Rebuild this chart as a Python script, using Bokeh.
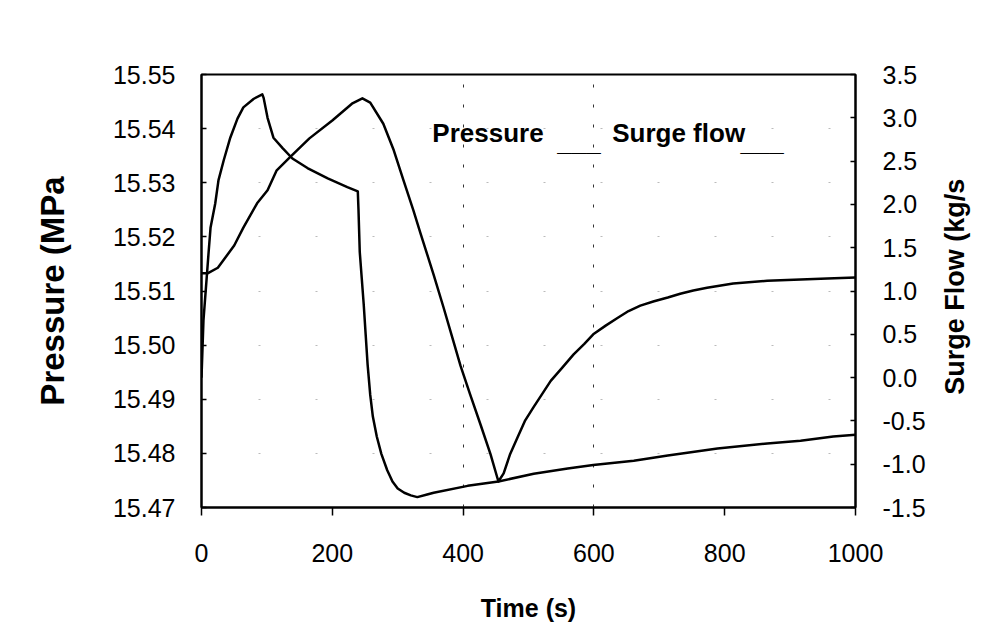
import math
from bokeh.plotting import figure
from bokeh.layouts import row
from bokeh.models import Range1d, LinearAxis, FixedTicker, NumeralTickFormatter, Label
from bokeh.embed import file_html
from bokeh.resources import INLINE

# ---- data ----
time_pressure = [0, 10, 25, 50, 64, 85, 101, 115, 135, 165, 200, 230, 246, 258, 278, 294,
                 309, 324, 335, 355, 370, 385, 396, 411, 427, 442, 454, 462, 472, 483, 495,
                 508, 521, 534, 552, 569, 585, 599, 618, 636, 653, 671, 692, 713, 732, 752,
                 773, 813, 865, 957, 1000]
pressure = [15.5133, 15.5133, 15.5143, 15.5184, 15.5217, 15.5262, 15.5286, 15.5323, 15.5347,
            15.5382, 15.5415, 15.5446, 15.5456, 15.5448, 15.5409, 15.5360, 15.5304, 15.5249,
            15.5206, 15.5130, 15.5070, 15.5008, 15.4962, 15.4908, 15.4852, 15.4798, 15.4748,
            15.4763, 15.4799, 15.4829, 15.4861, 15.4886, 15.4910, 15.4934, 15.4959, 15.4983,
            15.5002, 15.5020, 15.5036, 15.5050, 15.5063, 15.5073, 15.5081, 15.5088, 15.5095,
            15.5101, 15.5106, 15.5114, 15.5119, 15.5123, 15.5125]

time_flow = [0, 3, 7.6, 10.7, 13.8, 21, 26, 34, 44, 55, 64, 80, 93, 95, 101, 110, 124, 139,
             162, 193, 223, 239, 240, 242, 245, 248, 251, 254, 258, 262, 268, 275, 284, 292,
             300, 310, 320, 330, 345, 355, 407, 454, 508, 560, 599, 661, 713, 789, 865, 916,
             966, 1000]
surge_flow = [0.0, 0.66, 1.12, 1.43, 1.73, 2.01, 2.28, 2.51, 2.77, 2.99, 3.12, 3.22, 3.27,
              3.23, 3.00, 2.77, 2.65, 2.53, 2.42, 2.30, 2.20, 2.15, 1.95, 1.45, 1.15, 0.85,
              0.50, 0.15, -0.20, -0.45, -0.68, -0.88, -1.07, -1.20, -1.28, -1.33, -1.36,
              -1.38, -1.35, -1.33, -1.25, -1.20, -1.11, -1.05, -1.01, -0.96, -0.90, -0.82,
              -0.76, -0.73, -0.68, -0.66]

x_ticks = [0, 200, 400, 600, 800, 1000]
x_grid = [400, 600]
p_ticks = [15.47, 15.48, 15.49, 15.50, 15.51, 15.52, 15.53, 15.54, 15.55]
f_ticks = [-1.5, -1.0, -0.5, 0.0, 0.5, 1.0, 1.5, 2.0, 2.5, 3.0, 3.5]

FONT = "Liberation Sans"
MAIN_W = 935
SIDE_W = 989 - MAIN_W
H = 625

p = figure(width=MAIN_W, height=H, output_backend="svg", toolbar_location=None,
           x_range=Range1d(0, 1000), y_range=Range1d(15.47, 15.55),
           min_border_left=201, min_border_right=MAIN_W - 855, min_border_top=74,
           min_border_bottom=118)
p.background_fill_color = "white"
p.border_fill_color = "white"
p.outline_line_color = "black"
p.outline_line_width = 2

p.extra_y_ranges = {"flow": Range1d(-1.5, 3.5)}

# curves
p.line(time_pressure, pressure, line_color="black", line_width=2.5, line_join="round")
p.line(time_flow, surge_flow, line_color="black", line_width=2.5, line_join="round",
       y_range_name="flow")

# grids
p.xgrid.ticker = FixedTicker(ticks=x_grid)
p.xgrid.grid_line_color = "#333333"
p.xgrid.grid_line_dash = "3 17"
p.xgrid.grid_line_width = 1
p.ygrid.ticker = FixedTicker(ticks=p_ticks[1:-1])
p.ygrid.grid_line_color = "#bbbbbb"
p.ygrid.grid_line_dash = "2 55"
p.ygrid.grid_line_width = 1


def style_axis(ax):
    ax.major_label_text_font = FONT
    ax.major_label_text_font_size = "25px"
    ax.major_label_text_color = "black"
    ax.axis_label_text_font = FONT
    ax.axis_label_text_font_style = "bold"
    ax.axis_label_text_color = "black"
    ax.minor_tick_line_color = None
    ax.axis_line_width = 2
    ax.axis_line_color = "black"
    ax.major_tick_line_color = "black"
    ax.major_tick_line_width = 1.5


# x axis
xa = p.xaxis[0]
style_axis(xa)
xa.ticker = FixedTicker(ticks=x_ticks)
xa.axis_label = "Time (s)"
xa.axis_label_text_font_size = "25px"
xa.axis_label_standoff = 29
xa.major_label_standoff = 28
xa.major_tick_out = 8
xa.major_tick_in = 0

# left axis
ya = p.yaxis[0]
style_axis(ya)
ya.ticker = FixedTicker(ticks=p_ticks)
ya.formatter = NumeralTickFormatter(format="0.00")
ya.axis_label = "Pressure (MPa"
ya.axis_label_text_font_size = "33px"
ya.axis_label_standoff = 39
ya.major_label_standoff = 26
ya.major_tick_out = 0
ya.major_tick_in = 5

# right axis
ra = LinearAxis(y_range_name="flow")
style_axis(ra)
ra.ticker = FixedTicker(ticks=f_ticks)
ra.formatter = NumeralTickFormatter(format="0.0")
ra.major_label_standoff = 27
ra.major_tick_out = 0
ra.major_tick_in = 5
p.add_layout(ra, "right")

# legend-like text
leg_style = dict(text_font=FONT, text_font_style="bold", text_font_size="26px",
                 text_color="black", text_baseline="alphabetic")
LEG_Y = 15.5392
p.add_layout(Label(x=353, y=LEG_Y, text="Pressure", **leg_style))
p.add_layout(Label(x=544, y=LEG_Y, y_offset=-9, text="___", **leg_style))
p.add_layout(Label(x=628, y=LEG_Y, text="Surge flow", **leg_style))
p.add_layout(Label(x=824, y=LEG_Y, y_offset=-9, text="___", **leg_style))

# narrow side panel holding the right-axis title (reads bottom-to-top)
side = figure(width=SIDE_W, height=H, output_backend="svg", toolbar_location=None,
              x_range=Range1d(0, SIDE_W), y_range=Range1d(0, H),
              x_axis_location=None, y_axis_location=None, min_border=0)
side.outline_line_color = None
side.background_fill_color = "white"
side.border_fill_color = "white"
side.xgrid.visible = False
side.ygrid.visible = False
side.add_layout(Label(x=19, y=H - 306.5, text="Surge Flow (kg/s",
                      angle=math.pi / 2, text_align="center",
                      text_baseline="alphabetic", text_font=FONT,
                      text_font_style="bold", text_color="black",
                      text_font_size="27px"))

layout = row(p, side)
open("out.html", "w").write(file_html(layout, INLINE))
